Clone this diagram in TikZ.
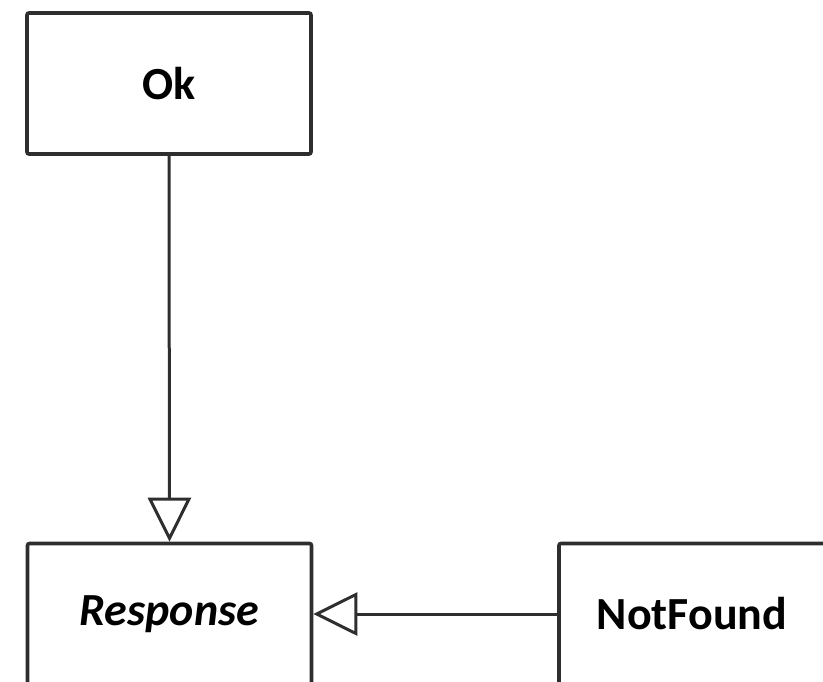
\documentclass[tikz,border=0pt]{standalone}
\usepackage{fontspec}
\setmainfont{Carlito}
\usetikzlibrary{arrows.meta}
\definecolor{edge}{HTML}{2E2E2E}
\tikzset{
  classbox/.style={draw=edge, line width=3.6pt, rounded corners=2pt, fill=white,
    minimum width=284pt, minimum height=141pt, inner sep=0pt,
    font=\fontsize{46}{50}\selectfont\bfseries, text=black},
  gen/.style={draw=edge, line width=3pt,
    -{Triangle[open, length=44pt, width=43pt, line width=3pt]}}
}
\begin{document}
\begin{tikzpicture}[x=1pt, y=-1pt]
\useasboundingbox (0,0) rectangle (823,681);
\clip (0,0) rectangle (823,681);
\node[classbox] (ok) at (169,83.5) {Ok};
\node[classbox] (resp) at (169.5,614) {\itshape Response};
\node[classbox, minimum width=266pt] (nf) at (692,614) {NotFound};
\draw[gen] (ok.south) -- (resp.north);
\draw[gen] (nf.west) -- (resp.east);
\end{tikzpicture}
\end{document}
